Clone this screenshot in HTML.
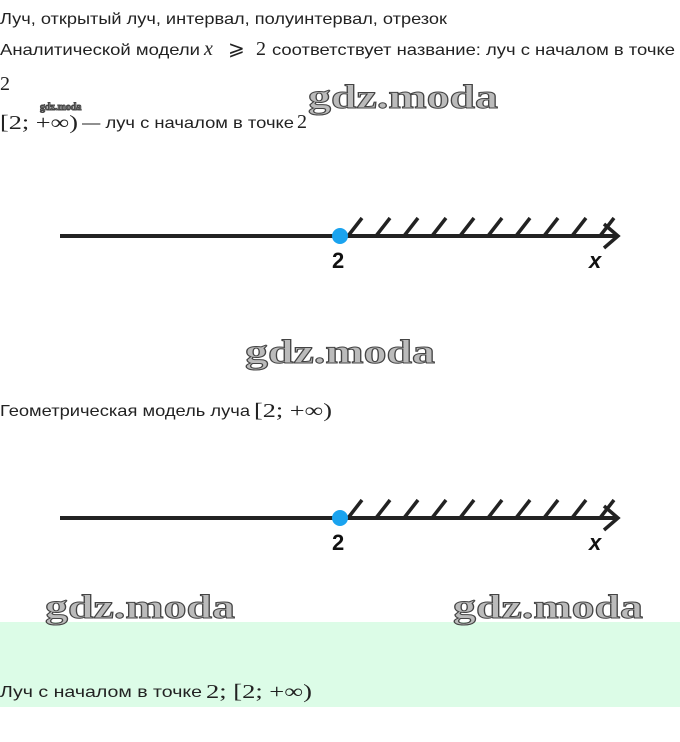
<!DOCTYPE html>
<html><head><meta charset="utf-8"><style>
html,body{margin:0;padding:0;background:#fff;width:680px;height:742px;overflow:hidden}
svg{position:absolute;left:0;top:0}
.s{font-family:"Liberation Sans",sans-serif;font-size:16px;fill:#222}
.m{font-family:"Liberation Serif",serif;font-size:20px;fill:#222}
.w{font-family:"Liberation Serif",serif;font-weight:bold;fill:#bbb;stroke:#444;stroke-width:1}
.ax{font-family:"Liberation Sans",sans-serif;font-size:22px;font-weight:bold;fill:#111}
</style></head><body>
<svg width="680" height="742" viewBox="0 0 680 742">
<rect x="0" y="622" width="680" height="85" fill="#dcfce7"/>
<text class="s" x="0" y="24" textLength="447" lengthAdjust="spacingAndGlyphs">Луч, открытый луч, интервал, полуинтервал, отрезок</text>
<text class="s" x="0" y="55" textLength="200" lengthAdjust="spacingAndGlyphs">Аналитической модели</text>
<text class="m" x="204" y="55" font-style="italic">x</text>
<text class="m" x="228" y="55">⩾</text>
<text class="m" x="256" y="55">2</text>
<text class="s" x="272" y="55" textLength="403" lengthAdjust="spacingAndGlyphs">соответствует название: луч с началом в точке</text>
<text class="m" x="0" y="90">2</text>
<text class="m" x="0" y="129" textLength="78" lengthAdjust="spacingAndGlyphs">[2;  +∞)</text>
<text class="s" x="82" y="128" textLength="212" lengthAdjust="spacingAndGlyphs">— луч с началом в точке</text>
<text class="m" x="297" y="128">2</text>
<text class="w" x="40" y="110" font-size="10" stroke-width="0" fill="#444">gdz.moda</text>
<text class="w" x="308" y="108" font-size="34" textLength="190" lengthAdjust="spacingAndGlyphs">gdz.moda</text>
<text class="w" x="245" y="363" font-size="34" textLength="190" lengthAdjust="spacingAndGlyphs">gdz.moda</text>
<text class="w" x="45" y="618" font-size="34" textLength="190" lengthAdjust="spacingAndGlyphs">gdz.moda</text>
<text class="w" x="453" y="618" font-size="34" textLength="190" lengthAdjust="spacingAndGlyphs">gdz.moda</text>
<text class="s" x="0" y="416" textLength="250" lengthAdjust="spacingAndGlyphs">Геометрическая модель луча</text>
<text class="m" x="254" y="417" textLength="78" lengthAdjust="spacingAndGlyphs">[2;  +∞)</text>
<text class="s" x="0" y="697" textLength="202" lengthAdjust="spacingAndGlyphs">Луч с началом в точке</text>
<text class="m" x="206" y="698" textLength="106" lengthAdjust="spacingAndGlyphs">2; [2;  +∞)</text>
<g id="d">
<line x1="60" y1="236" x2="618" y2="236" stroke="#222" stroke-width="4"/>
<polyline points="604,224 618,236 604,248" fill="none" stroke="#222" stroke-width="3.5"/>
<g stroke="#222" stroke-width="3.5">
<line x1="348" y1="236" x2="362" y2="218"/><line x1="376" y1="236" x2="390" y2="218"/>
<line x1="404" y1="236" x2="418" y2="218"/><line x1="432" y1="236" x2="446" y2="218"/>
<line x1="460" y1="236" x2="474" y2="218"/><line x1="488" y1="236" x2="502" y2="218"/>
<line x1="516" y1="236" x2="530" y2="218"/><line x1="544" y1="236" x2="558" y2="218"/>
<line x1="572" y1="236" x2="586" y2="218"/><line x1="600" y1="236" x2="614" y2="218"/>
</g>
<circle cx="340" cy="236" r="8" fill="#1aa3ef"/>
<text class="ax" x="332" y="268">2</text>
<text class="ax" x="589" y="268" font-style="italic">x</text>
</g>
<use href="#d" y="282"/>
</svg>
</body></html>
